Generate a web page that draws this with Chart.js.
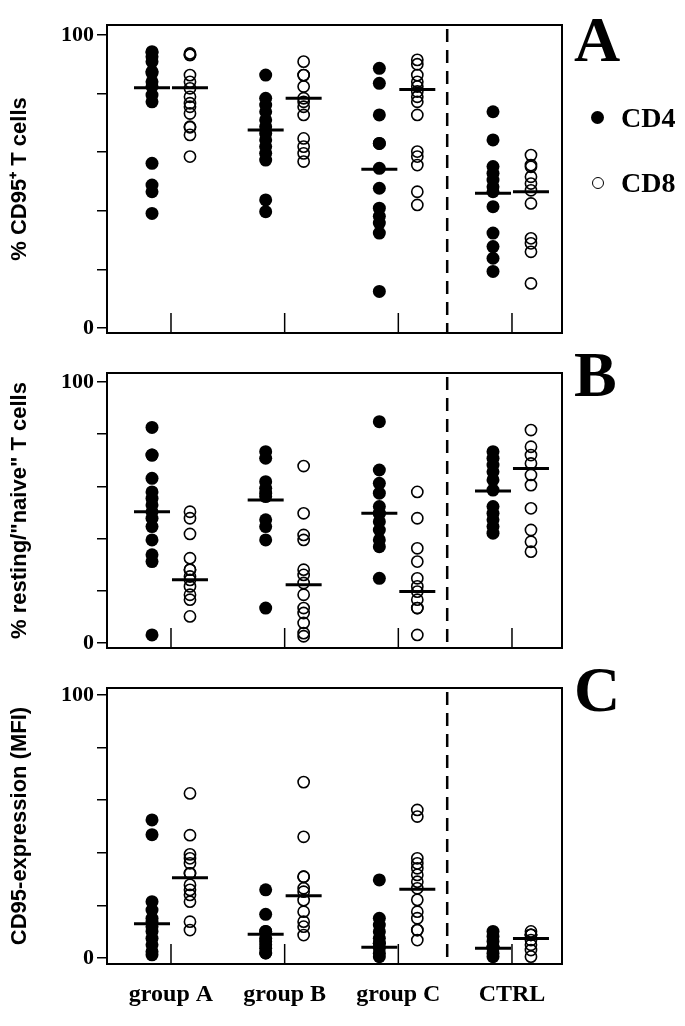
<!DOCTYPE html>
<html>
<head>
<meta charset="utf-8">
<script src="https://cdn.jsdelivr.net/npm/chart.js@4"></script>
<style>
  body { margin: 0; background: #fff; }
  #wrap { position: relative; width: 685px; height: 1026px; }
  canvas { position: absolute; left: 0; top: 0; }
  .letter { position: absolute; left: 574px; font: bold 64px "Liberation Serif", serif; line-height: 64px; }
  .leg { position: absolute; left: 621px; font: bold 28px "Liberation Serif", serif; line-height: 28px; }
  .dot { position: absolute; border-radius: 50%; box-sizing: border-box; }
</style>
</head>
<body>
<div id="wrap">
  <canvas id="panelA" width="685" height="1026"></canvas>
  <canvas id="panelB" width="685" height="1026"></canvas>
  <canvas id="panelC" width="685" height="1026"></canvas>
  <div class="letter" style="top:8px">A</div>
  <div class="letter" style="top:343px">B</div>
  <div class="letter" style="top:658px">C</div>
  <div class="dot" style="left:591px;top:111px;width:13px;height:13px;background:#000"></div>
  <div class="leg" style="top:104px">CD4</div>
  <div class="dot" style="left:592px;top:177px;width:12px;height:12px;border:1.6px solid #000"></div>
  <div class="leg" style="top:169px">CD8</div>
</div>
<script>
const groups = ["group A", "group B", "group C", "CTRL"];

// A: % CD95+ T cells
const cd95Cd4 = [
  [94.3, 94, 92.6, 90.9, 87.5, 87, 84, 82.4, 79.5, 77.2, 56.2, 48.8, 46.5, 39.1],
  [86.3, 78.4, 76.1, 73.8, 71, 68.7, 66.4, 64.2, 61.9, 59.6, 57.3, 43.7, 39.7],
  [88.6, 83.5, 72.7, 63, 63, 54.5, 47.7, 40.9, 38.1, 35.8, 32.4, 12.5],
  [73.8, 64.2, 55.1, 52.8, 50.5, 48.2, 46.5, 41.4, 32.4, 27.8, 23.8, 19.3]
];
const cd95Cd8 = [
  [93.7, 93.2, 93.2, 86.3, 84, 81.8, 78.9, 76.7, 75.5, 73.2, 68.7, 68.5, 65.9, 58.5],
  [90.9, 86.3, 86.3, 82.4, 78.4, 77.2, 75.5, 72.7, 64.7, 61.9, 59.6, 56.8],
  [91.5, 90, 86.3, 84, 82.4, 80.7, 78.9, 77.2, 72.7, 60.2, 58.5, 55.6, 46.5, 42],
  [59, 55.6, 55, 51.6, 49.3, 47, 42.5, 30.6, 28.9, 26, 15.2]
];
const cd95MedCd4 = [82, 67.6, 54.2, 46];
const cd95MedCd8 = [82, 78.4, 81.4, 46.5];

// B: % resting/"naive" T cells
const naiveCd4 = [
  [82.6, 72, 72, 63.1, 57.9, 55.4, 52.9, 50.3, 47.8, 44.6, 39.5, 33.8, 31.2, 3.1],
  [73.3, 70.8, 61.8, 59.3, 57.4, 56.1, 47.2, 44.6, 39.5, 13.4],
  [84.8, 66.3, 61.2, 57.4, 52.3, 49.7, 49.7, 46.5, 43.3, 39.5, 36.9, 24.8],
  [73.3, 70.8, 68.2, 65.6, 62.5, 58.6, 52.3, 49.7, 47.2, 44.6, 42.1]
];
const naiveCd8 = [
  [50.3, 47.8, 41.8, 32.5, 28.1, 28.1, 25.5, 24.2, 21.7, 18.5, 16.6, 10.2],
  [67.8, 49.7, 41.4, 39.5, 28.1, 26.1, 23, 18.5, 13.4, 11.5, 7.7, 3.8, 2.6],
  [57.9, 47.8, 36.3, 31.2, 24.8, 21.7, 19.7, 16.6, 13.4, 13.4, 3.1],
  [81.6, 75.2, 72, 68.8, 64.4, 60.5, 51.6, 43.3, 38.8, 35]
];
const naiveMedCd4 = [50.3, 54.8, 49.7, 58.2];
const naiveMedCd8 = [24.2, 22.3, 19.7, 66.9];

// C: CD95-expression (MFI)
const mfiCd4 = [
  [52.5, 46.9, 21.4, 18.2, 15.1, 13.8, 11.9, 10.1, 7.5, 5, 2.4, 1.2],
  [25.9, 16.6, 10.1, 10.1, 7.5, 6.3, 5, 3.7, 1.9, 1.9],
  [29.7, 15.1, 12.5, 10, 7.5, 5.6, 5.6, 3.7, 1.8, 0.5],
  [10.1, 8.2, 6.3, 4.3, 4.3, 3.7, 1.8, 0.5]
];
const mfiCd8 = [
  [62.6, 46.7, 39.4, 37.9, 36, 32.2, 32.2, 27.8, 25.9, 24, 21.4, 13.8, 10.6],
  [66.9, 46.1, 30.9, 30.9, 26.5, 25.2, 22, 17.6, 13.8, 11.9, 8.7],
  [56.3, 53.8, 37.9, 36, 34.1, 31.6, 29, 26.5, 22.1, 17.6, 15.1, 10.6, 10.6, 6.8],
  [10.1, 8.8, 8.8, 8.8, 6.8, 5, 3, 0.5]
];
const mfiMedCd4 = [13, 9, 4.1, 3.7];
const mfiMedCd8 = [30.5, 23.7, 26.1, 7.4];

const yTicks = [0, 20, 40, 60, 80, 100];
const dividerAt = 2.43; // dashed line between group C and CTRL
const side = 0.167;

function toPoints(lists, dx) {
  const pts = [];
  lists.forEach((vals, i) => vals.forEach(v => pts.push({ x: i + dx, y: v })));
  return pts;
}

const framePlugin = {
  id: "frame",
  afterDraw(chart) {
    const { ctx, chartArea: a, scales: { x } } = chart;
    ctx.save();
    ctx.strokeStyle = "#000";
    ctx.lineWidth = 2;
    ctx.strokeRect(a.left, a.top, a.right - a.left, a.bottom - a.top);
    ctx.lineWidth = 1.5;
    groups.forEach((_, i) => {
      const px = x.getPixelForValue(i);
      ctx.beginPath();
      ctx.moveTo(px, a.bottom);
      ctx.lineTo(px, a.bottom - 20);
      ctx.stroke();
    });
    const dx = x.getPixelForValue(dividerAt);
    ctx.setLineDash([13, 8]);
    ctx.lineWidth = 2.5;
    ctx.beginPath();
    ctx.moveTo(dx, a.top + 4);
    ctx.lineTo(dx, a.bottom);
    ctx.stroke();
    ctx.restore();
  }
};

function makePanel(id, p) {
  new Chart(document.getElementById(id), {
    type: "scatter",
    data: {
      datasets: [
        {
          label: "CD4",
          data: toPoints(p.cd4, -side),
          pointStyle: "circle",
          pointRadius: 6.5,
          backgroundColor: "#000",
          borderColor: "#000",
          borderWidth: 0
        },
        {
          label: "CD8",
          data: toPoints(p.cd8, side),
          pointStyle: "circle",
          pointRadius: 5.6,
          backgroundColor: "rgba(0,0,0,0)",
          borderColor: "#000",
          borderWidth: 1.6
        },
        {
          label: "median",
          data: p.medCd4.map((v, i) => ({ x: i - side, y: v }))
            .concat(p.medCd8.map((v, i) => ({ x: i + side, y: v }))),
          pointStyle: "line",
          pointRadius: 18,
          borderColor: "#000",
          borderWidth: 3
        }
      ]
    },
    options: {
      responsive: false,
      animation: false,
      events: [],
      layout: { padding: { top: p.top, bottom: 1026 - p.bottom - p.xh, left: 0, right: 123 } },
      plugins: { legend: { display: false }, tooltip: { enabled: false } },
      scales: {
        x: {
          type: "linear",
          min: -0.563,
          max: 3.44,
          afterBuildTicks: s => { s.ticks = groups.map((_, i) => ({ value: i })); },
          afterFit: s => { s.height = p.xh; },
          grid: { display: false, drawTicks: false },
          border: { display: false },
          ticks: {
            display: p.showGroups,
            padding: 16,
            color: "#000",
            font: { family: "Liberation Serif", weight: "bold", size: 24 },
            callback: v => groups[v]
          }
        },
        y: {
          min: p.min,
          max: p.max,
          afterBuildTicks: s => { s.ticks = yTicks.map(v => ({ value: v })); },
          afterFit: s => { s.width = 107; },
          border: { display: false },
          grid: { drawOnChartArea: false, tickLength: 10, color: "#000", lineWidth: 1.5 },
          ticks: {
            padding: 3,
            color: "#000",
            font: { family: "Liberation Serif", weight: "bold", size: 22 },
            callback: v => (v === 0 || v === 100 ? String(v) : "")
          },
          title: {
            display: true,
            text: p.title,
            color: "#000",
            padding: { top: 7, bottom: 0 },
            font: { family: "Liberation Sans", weight: "bold", size: 22 }
          }
        }
      }
    },
    plugins: [framePlugin]
  });
}

makePanel("panelA", {
  cd4: cd95Cd4, cd8: cd95Cd8, medCd4: cd95MedCd4, medCd8: cd95MedCd8,
  title: "% CD95\u207A T cells", top: 25, bottom: 333, xh: 0, min: -1.7, max: 103.4, showGroups: false
});
makePanel("panelB", {
  cd4: naiveCd4, cd8: naiveCd8, medCd4: naiveMedCd4, medCd8: naiveMedCd8,
  title: "% resting/\"naive\" T cells", top: 373, bottom: 648, xh: 0, min: -1.9, max: 103.45, showGroups: false
});
makePanel("panelC", {
  cd4: mfiCd4, cd8: mfiCd8, medCd4: mfiMedCd4, medCd8: mfiMedCd8,
  title: "CD95-expression (MFI)", top: 688, bottom: 964, xh: 50, min: -2.3, max: 102.7, showGroups: true
});
</script>
</body>
</html>
